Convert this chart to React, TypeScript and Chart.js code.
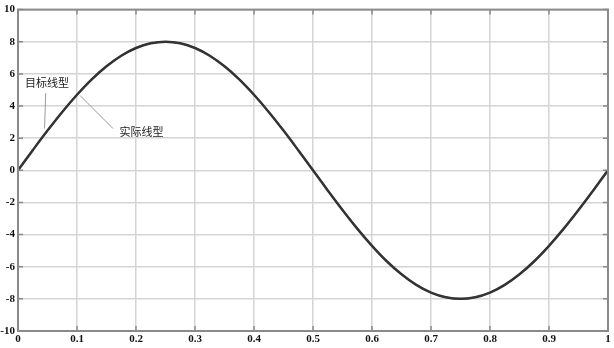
import React, { useEffect, useRef } from "react";
import { Chart, registerables } from "chart.js";

Chart.register(...registerables);

const xValues = [
  0, 0.025, 0.05, 0.075, 0.1, 0.125, 0.15, 0.175, 0.2, 0.225, 0.25, 0.275, 0.3, 0.325, 0.35, 0.375, 0.4, 0.425, 0.45,
  0.475, 0.5, 0.525, 0.55, 0.575, 0.6, 0.625, 0.65, 0.675, 0.7, 0.725, 0.75, 0.775, 0.8, 0.825, 0.85, 0.875, 0.9,
  0.925, 0.95, 0.975, 1,
];
const targetValues = [
  0, 1.25, 2.47, 3.63, 4.7, 5.66, 6.47, 7.13, 7.61, 7.9, 8, 7.9, 7.61, 7.13, 6.47, 5.66, 4.7, 3.63, 2.47, 1.25, 0,
  -1.25, -2.47, -3.63, -4.7, -5.66, -6.47, -7.13, -7.61, -7.9, -8, -7.9, -7.61, -7.13, -6.47, -5.66, -4.7, -3.63,
  -2.47, -1.25, 0,
];
const actualValues = [
  0, 1.25, 2.47, 3.63, 4.7, 5.66, 6.47, 7.13, 7.61, 7.9, 8, 7.9, 7.61, 7.13, 6.47, 5.66, 4.7, 3.63, 2.47, 1.25, 0,
  -1.25, -2.47, -3.63, -4.7, -5.66, -6.47, -7.13, -7.61, -7.9, -8, -7.9, -7.61, -7.13, -6.47, -5.66, -4.7, -3.63,
  -2.47, -1.25, 0,
];
const xTicks = [0, 0.1, 0.2, 0.3, 0.4, 0.5, 0.6, 0.7, 0.8, 0.9, 1];
const yTicks = [-10, -8, -6, -4, -2, 0, 2, 4, 6, 8, 10];

// annotations: label text, label anchor (data), leader line from/to (data)
const annotLabels = ["目标线型", "实际线型"];
const annotTextPos = [
  [0.049, 5.45],
  [0.172, 2.42],
];
const annotLineFrom = [
  [0.047, 4.8],
  [0.105, 4.66],
];
const annotLineTo = [
  [0.045, 2.6],
  [0.161, 2.6],
];

const framePlugin = {
  id: "frame",
  afterDraw(chart: any) {
    const { ctx, chartArea: a, scales } = chart;
    const xs = scales.x;
    const ys = scales.y;
    ctx.save();
    // inward tick marks
    ctx.strokeStyle = "#8a8a8a";
    ctx.lineWidth = 1.5;
    ctx.beginPath();
    xTicks.forEach((t) => {
      const px = xs.getPixelForValue(t);
      ctx.moveTo(px, a.top);
      ctx.lineTo(px, a.top + 5);
      ctx.moveTo(px, a.bottom);
      ctx.lineTo(px, a.bottom - 5);
    });
    yTicks.forEach((t) => {
      const py = ys.getPixelForValue(t);
      ctx.moveTo(a.left, py);
      ctx.lineTo(a.left + 5, py);
      ctx.moveTo(a.right, py);
      ctx.lineTo(a.right - 5, py);
    });
    ctx.stroke();
    // frame
    ctx.strokeStyle = "#8a8a8a";
    ctx.lineWidth = 2;
    ctx.strokeRect(a.left, a.top, a.right - a.left, a.bottom - a.top);
    // annotations
    ctx.strokeStyle = "#9a9a9a";
    ctx.lineWidth = 1;
    ctx.fillStyle = "#222";
    ctx.font = '11px "Noto Sans CJK SC"';
    ctx.textBaseline = "middle";
    annotLabels.forEach((lab, i) => {
      ctx.beginPath();
      ctx.moveTo(xs.getPixelForValue(annotLineFrom[i][0]), ys.getPixelForValue(annotLineFrom[i][1]));
      ctx.lineTo(xs.getPixelForValue(annotLineTo[i][0]), ys.getPixelForValue(annotLineTo[i][1]));
      ctx.stroke();
      ctx.textAlign = i === 0 ? "center" : "left";
      ctx.fillText(lab, xs.getPixelForValue(annotTextPos[i][0]), ys.getPixelForValue(annotTextPos[i][1]));
    });
    ctx.restore();
  },
};

export default function App() {
  const ref = useRef<HTMLCanvasElement>(null);
  useEffect(() => {
    document.body.style.margin = "0";
    const tickFont = { family: '"Liberation Serif"', size: 11, weight: "bold" as const };
    const chart = new Chart(ref.current!, {
      type: "line",
      data: {
        datasets: [
          {
            label: "目标线型",
            data: xValues.map((x, i) => ({ x, y: targetValues[i] })),
            borderColor: "#333333",
            borderWidth: 2.5,
            pointRadius: 0,
            tension: 0.4,
            fill: false,
          },
          {
            label: "实际线型",
            data: xValues.map((x, i) => ({ x, y: actualValues[i] })),
            borderColor: "#555555",
            borderWidth: 1.5,
            pointRadius: 0,
            tension: 0.4,
            fill: false,
          },
        ],
      },
      options: {
        responsive: false,
        animation: false,
        layout: { padding: { top: 9, right: 6, left: 0, bottom: 0 }, autoPadding: false } as any,
        plugins: { legend: { display: false }, tooltip: { enabled: false } },
        scales: {
          x: {
            type: "linear",
            min: 0,
            max: 1,
            afterBuildTicks: (s: any) => {
              s.ticks = xTicks.map((v) => ({ value: v }));
            },
            afterFit: (s: any) => {
              s.height = 17;
            },
            ticks: {
              font: tickFont,
              color: "#111",
              padding: 2,
              maxRotation: 0,
              autoSkip: false,
              callback: (v: any) => String(v),
            },
            grid: { color: "#d4d4d4", lineWidth: 1.5, drawTicks: false },
            border: { display: false },
          },
          y: {
            type: "linear",
            min: -10,
            max: 10,
            afterBuildTicks: (s: any) => {
              s.ticks = yTicks.map((v) => ({ value: v }));
            },
            afterFit: (s: any) => {
              s.width = 18;
            },
            ticks: {
              font: tickFont,
              color: "#111",
              padding: 3,
              autoSkip: false,
              callback: (v: any) => String(v),
            },
            grid: { color: "#d4d4d4", lineWidth: 1.5, drawTicks: false },
            border: { display: false },
          },
        },
      },
      plugins: [framePlugin],
    });
    return () => chart.destroy();
  }, []);
  return (
    <div style={{ width: 614, height: 348, background: "#fff" }}>
      <canvas ref={ref} width={614} height={348} style={{ display: "block" }} />
    </div>
  );
}
